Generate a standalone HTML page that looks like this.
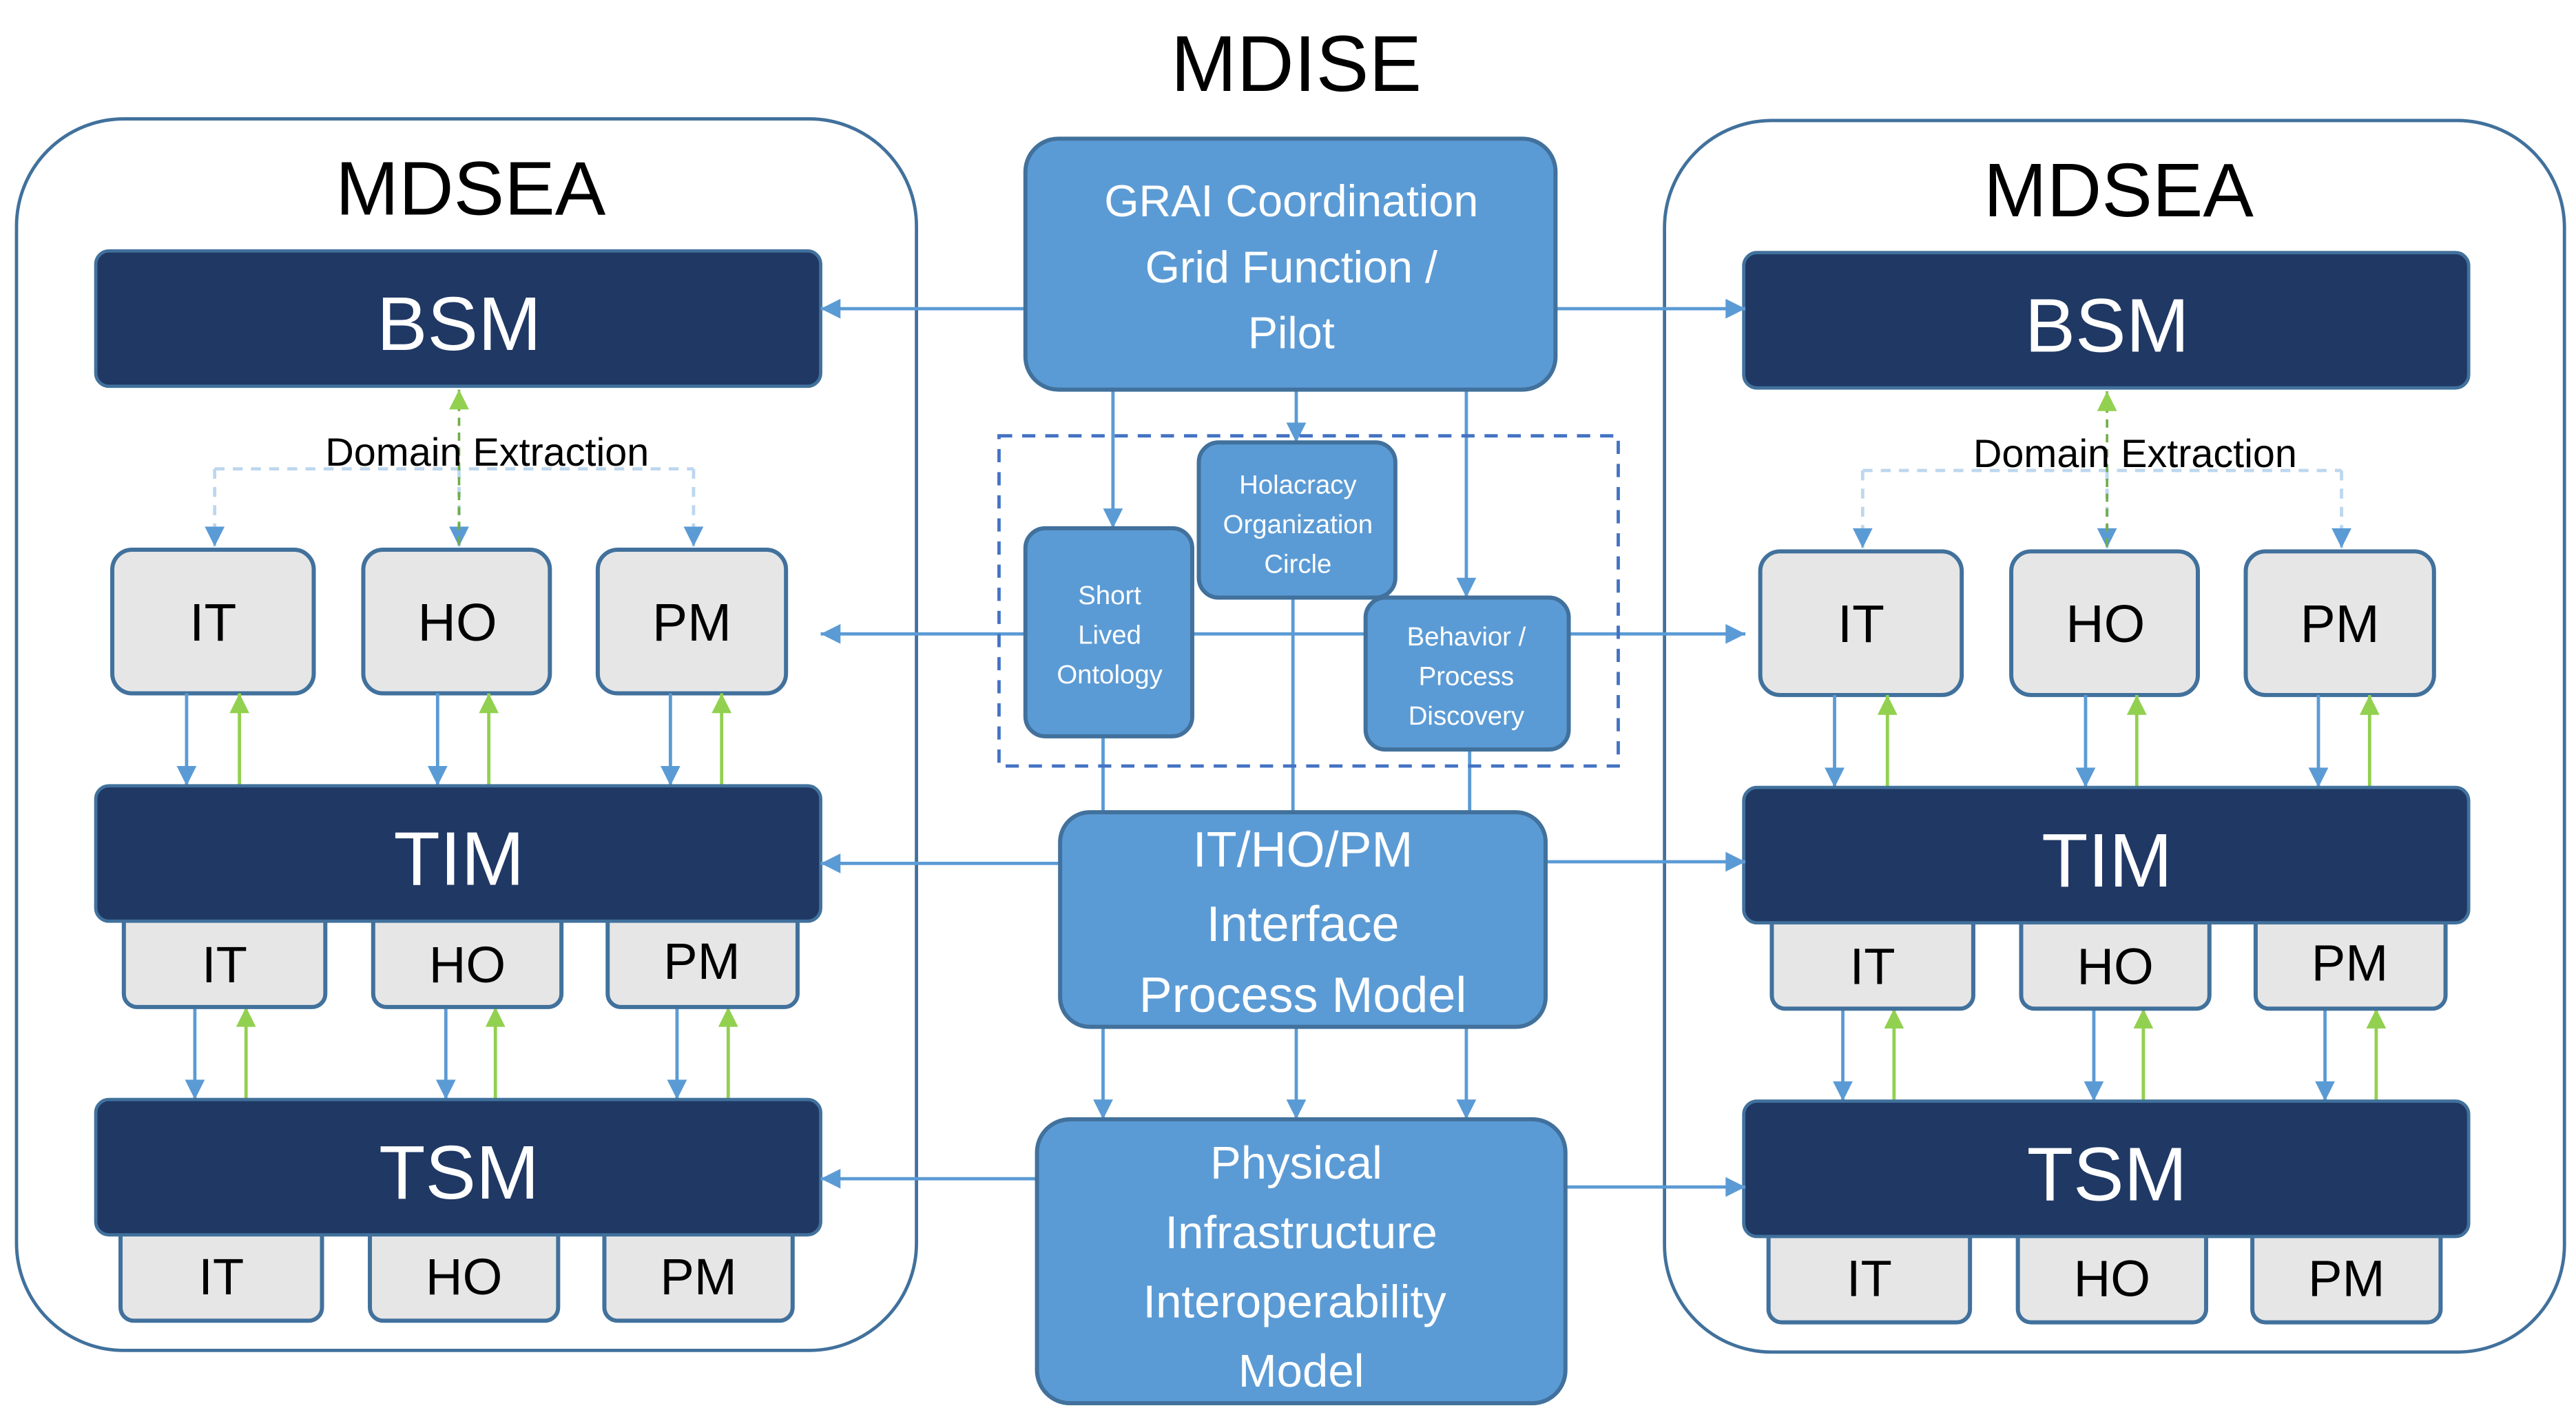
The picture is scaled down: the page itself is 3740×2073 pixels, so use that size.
<!DOCTYPE html>
<html><head><style>html,body{margin:0;padding:0;background:#fff}svg{display:block}</style></head>
<body>
<svg width="3740" height="2073" viewBox="0 0 1560 865" preserveAspectRatio="none" xmlns="http://www.w3.org/2000/svg" font-family="Liberation Sans, sans-serif">
<defs>
<marker id="b" viewBox="0 0 10 10" refX="10" refY="5" markerWidth="14" markerHeight="12" orient="auto-start-reverse" markerUnits="userSpaceOnUse"><path d="M0,0 L10,5 L0,10 z" fill="#5b9bd5"/></marker>
<marker id="g" viewBox="0 0 10 10" refX="10" refY="5" markerWidth="14" markerHeight="12" orient="auto-start-reverse" markerUnits="userSpaceOnUse"><path d="M0,0 L10,5 L0,10 z" fill="#92d050"/></marker>
</defs>
<text x="785" y="55" font-size="48" text-anchor="middle">MDISE</text>

<g id="side">
<rect x="10" y="72" width="545" height="746" rx="65" fill="none" stroke="#41719c" stroke-width="2"/>
<text x="285" y="130" font-size="46" text-anchor="middle">MDSEA</text>
<path d="M130,284 H420" stroke="#bdd7ee" stroke-width="2" stroke-dasharray="6,5" fill="none"/>
<path d="M130,284 V331" stroke="#bdd7ee" stroke-width="2" stroke-dasharray="6,5" fill="none" marker-end="url(#b)"/>
<path d="M420,284 V331" stroke="#bdd7ee" stroke-width="2" stroke-dasharray="6,5" fill="none" marker-end="url(#b)"/>
<path d="M278,284 V331" stroke="#bdd7ee" stroke-width="2" stroke-dasharray="6,5" fill="none" marker-end="url(#b)"/>
<path d="M278,330 V236" stroke="#70ad47" stroke-width="1.5" stroke-dasharray="5,4" fill="none" marker-end="url(#g)"/>
<text x="295" y="282" font-size="24" text-anchor="middle">Domain Extraction</text>

<rect x="58" y="152" width="439" height="82" rx="8" fill="#203864" stroke="#41719c" stroke-width="2"/>
<text x="278" y="212" font-size="46" fill="#fff" text-anchor="middle">BSM</text>

<g stroke="#41719c" stroke-width="2.5" fill="#e6e6e6">
<rect x="68" y="333" width="122" height="87" rx="12"/>
<rect x="220" y="333" width="113" height="87" rx="12"/>
<rect x="362" y="333" width="114" height="87" rx="12"/>
</g>
<g font-size="32" text-anchor="middle">
<text x="129" y="388">IT</text><text x="277" y="388">HO</text><text x="419" y="388">PM</text>
</g>
<g stroke="#5b9bd5" stroke-width="2" fill="none">
<path d="M113,420 V476" marker-end="url(#b)"/><path d="M265,420 V476" marker-end="url(#b)"/><path d="M406,420 V476" marker-end="url(#b)"/>
<path d="M118,610 V666" marker-end="url(#b)"/><path d="M270,610 V666" marker-end="url(#b)"/><path d="M410,610 V666" marker-end="url(#b)"/>
</g>
<g stroke="#92d050" stroke-width="2" fill="none">
<path d="M145,476 V420" marker-end="url(#g)"/><path d="M296,476 V420" marker-end="url(#g)"/><path d="M437,476 V420" marker-end="url(#g)"/>
<path d="M149,666 V610" marker-end="url(#g)"/><path d="M300,666 V610" marker-end="url(#g)"/><path d="M441,666 V610" marker-end="url(#g)"/>
</g>

<g stroke="#41719c" stroke-width="2.5" fill="#e6e6e6">
<rect x="75" y="550" width="122" height="60" rx="8"/>
<rect x="226" y="550" width="114" height="60" rx="8"/>
<rect x="368" y="550" width="115" height="60" rx="8"/>
<rect x="73" y="740" width="122" height="60" rx="8"/>
<rect x="224" y="740" width="114" height="60" rx="8"/>
<rect x="366" y="740" width="114" height="60" rx="8"/>
</g>
<rect x="58" y="476" width="439" height="82" rx="8" fill="#203864" stroke="#41719c" stroke-width="2"/>
<text x="278" y="536" font-size="46" fill="#fff" text-anchor="middle">TIM</text>
<rect x="58" y="666" width="439" height="82" rx="8" fill="#203864" stroke="#41719c" stroke-width="2"/>
<text x="278" y="726" font-size="46" fill="#fff" text-anchor="middle">TSM</text>
<g font-size="31" text-anchor="middle">
<text x="136" y="595">IT</text><text x="283" y="595">HO</text><text x="425" y="593">PM</text>
<text x="134" y="784">IT</text><text x="281" y="784">HO</text><text x="423" y="784">PM</text>
</g>
</g>
<use href="#side" transform="translate(998,1)"/>

<g stroke="#5b9bd5" stroke-width="2" fill="none">
<path d="M621,187 H497" marker-end="url(#b)"/>
<path d="M942,187 H1057" marker-end="url(#b)"/>
<path d="M642,523 H497" marker-end="url(#b)"/>
<path d="M936,522 H1057" marker-end="url(#b)"/>
<path d="M628,714 H497" marker-end="url(#b)"/>
<path d="M948,719 H1057" marker-end="url(#b)"/>
<path d="M1057,384 H497" marker-end="url(#b)" marker-start="url(#b)"/>
<path d="M674,236 V320" marker-end="url(#b)"/>
<path d="M785,236 V268" marker-end="url(#b)"/>
<path d="M888,236 V362" marker-end="url(#b)"/>
<path d="M668,446 V492"/><path d="M783,362 V492"/><path d="M890,454 V492"/>
<path d="M668,622 V678" marker-end="url(#b)"/>
<path d="M785,622 V678" marker-end="url(#b)"/>
<path d="M888,622 V678" marker-end="url(#b)"/>
</g>
<rect x="605" y="264" width="375" height="200" fill="none" stroke="#4472c4" stroke-width="2" stroke-dasharray="8,6"/>
<g fill="#5b9bd5" stroke="#41719c" stroke-width="2.5">
<rect x="621" y="84" width="321" height="152" rx="20"/>
<rect x="621" y="320" width="101" height="126" rx="12"/>
<rect x="726" y="268" width="119" height="94" rx="12"/>
<rect x="827" y="362" width="123" height="92" rx="12"/>
<rect x="642" y="492" width="294" height="130" rx="18"/>
<rect x="628" y="678" width="320" height="172" rx="20"/>
</g>
<g fill="#fff" text-anchor="middle">
<g font-size="27"><text x="782" y="131">GRAI Coordination</text><text x="782" y="171">Grid Function /</text><text x="782" y="211">Pilot</text></g>
<g font-size="16"><text x="672" y="366">Short</text><text x="672" y="390">Lived</text><text x="672" y="414">Ontology</text>
<text x="786" y="299">Holacracy</text><text x="786" y="323">Organization</text><text x="786" y="347">Circle</text>
<text x="888" y="391">Behavior /</text><text x="888" y="415">Process</text><text x="888" y="439">Discovery</text></g>
<g font-size="30"><text x="789" y="525">IT/HO/PM</text><text x="789" y="570">Interface</text><text x="789" y="613">Process Model</text></g>
<g font-size="28"><text x="785" y="714">Physical</text><text x="788" y="756">Infrastructure</text><text x="784" y="798">Interoperability</text><text x="788" y="840">Model</text></g>
</g>
</svg>
</body></html>
